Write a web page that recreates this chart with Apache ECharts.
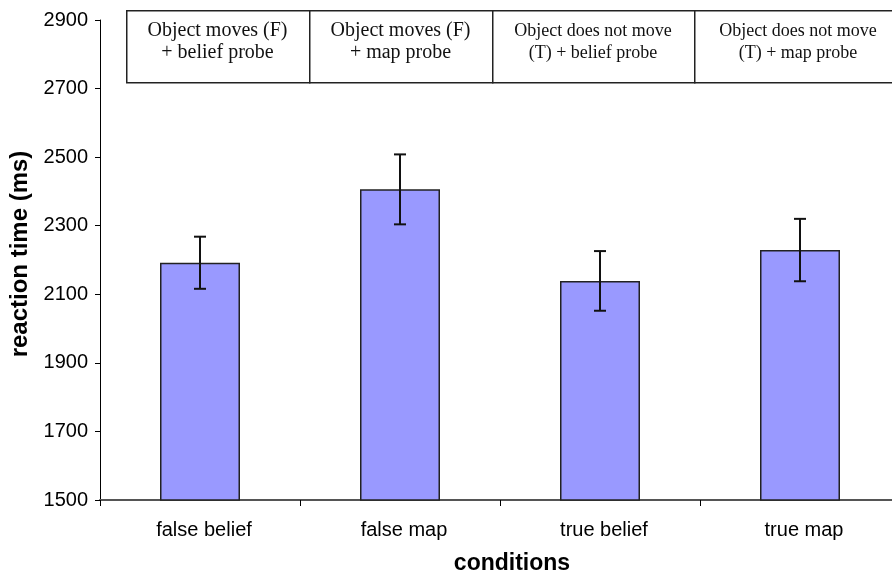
<!DOCTYPE html>
<html>
<head>
<meta charset="utf-8">
<script src="https://cdn.jsdelivr.net/npm/echarts@6/dist/echarts.min.js"></script>
<style>html,body{margin:0;padding:0;background:#fff}#c{width:892px;height:573px}</style>
</head>
<body>
<div id="c"></div>
<script>
var categories = ['false belief', 'false map', 'true belief', 'true map'];
var meanRT = [2192, 2406, 2139, 2229];
var errRT = [76, 102, 87, 91];
var yTicks = [1500, 1700, 1900, 2100, 2300, 2500, 2700, 2900];
var boxLine1 = ['Object moves (F)', 'Object moves (F)', 'Object does not move', 'Object does not move'];
var boxLine2 = ['+ belief probe', '+ map probe', '(T) + belief probe', '(T) + map probe'];

var chart = echarts.init(document.getElementById('c'), null, {renderer: 'canvas'});

var boxX = [126, 309, 492, 694, 902];
var boxFont = [20, 20, 18, 18];
var graphics = [];
for (var i = 0; i < 4; i++) {
  graphics.push({
    type: 'rect', left: boxX[i], top: 10,
    shape: {width: boxX[i + 1] - boxX[i], height: 72},
    style: {fill: '#fff', stroke: '#222', lineWidth: 1.5}, z: 10
  });
  graphics.push({
    type: 'text', z: 11,
    x: (boxX[i] + boxX[i + 1]) / 2, y: 31,
    style: {text: boxLine1[i], fill: '#111', font: boxFont[i] + 'px "Liberation Serif", "Times New Roman", serif', textAlign: 'center', textVerticalAlign: 'middle'}
  });
  graphics.push({
    type: 'text', z: 11,
    x: (boxX[i] + boxX[i + 1]) / 2, y: 53,
    style: {text: boxLine2[i], fill: '#111', font: boxFont[i] + 'px "Liberation Serif", "Times New Roman", serif', textAlign: 'center', textVerticalAlign: 'middle'}
  });
}

var errData = meanRT.map(function (m, i) { return [i, m - errRT[i], m + errRT[i]]; });

chart.setOption({
  animation: false,
  backgroundColor: '#fff',
  grid: {left: 100, top: 20, width: 800, height: 480, containLabel: false, outerBoundsMode: 'none'},
  xAxis: {
    type: 'category',
    data: categories,
    name: 'conditions',
    nameLocation: 'middle',
    nameGap: 52,
    nameTextStyle: {fontFamily: '"Liberation Sans", Arial, sans-serif', fontWeight: 'bold', fontSize: 23, color: '#000', padding: [0, 0, 0, 24]},
    axisLine: {lineStyle: {color: '#555', width: 2}},
    axisTick: {show: true, length: 6, lineStyle: {color: '#000', width: 1}},
    axisLabel: {margin: 20, fontFamily: '"Liberation Sans", Arial, sans-serif', fontSize: 20, color: '#000', padding: [0, 0, 0, 8]},
    splitLine: {show: false}
  },
  yAxis: {
    type: 'value',
    min: yTicks[0],
    max: yTicks[yTicks.length - 1],
    interval: 200,
    name: 'reaction time (ms)',
    nameLocation: 'middle',
    nameRotate: 90,
    nameGap: 66,
    nameTextStyle: {fontFamily: '"Liberation Sans", Arial, sans-serif', fontWeight: 'bold', fontSize: 24, color: '#000', padding: [0, 0, 0, 12]},
    axisLine: {show: true, lineStyle: {color: '#000', width: 1}},
    axisTick: {show: true, length: 5, lineStyle: {color: '#000'}},
    axisLabel: {margin: 12, fontFamily: '"Liberation Sans", Arial, sans-serif', fontSize: 20, color: '#000', formatter: function (v) { return String(v); }},
    splitLine: {show: false}
  },
  series: [
    {
      type: 'bar',
      data: meanRT,
      barWidth: 80,
      itemStyle: {color: '#9999FF', borderColor: '#222', borderWidth: 1.5}
    },
    {
      type: 'custom',
      data: errData,
      z: 5,
      renderItem: function (params, api) {
        var lo = api.coord([api.value(0), api.value(1)]);
        var hi = api.coord([api.value(0), api.value(2)]);
        var w = 6;
        var st = {stroke: '#111', lineWidth: 2};
        return {
          type: 'group',
          children: [
            {type: 'line', shape: {x1: hi[0], y1: hi[1], x2: lo[0], y2: lo[1]}, style: st},
            {type: 'line', shape: {x1: hi[0] - w, y1: hi[1], x2: hi[0] + w, y2: hi[1]}, style: st},
            {type: 'line', shape: {x1: lo[0] - w, y1: lo[1], x2: lo[0] + w, y2: lo[1]}, style: st}
          ]
        };
      }
    }
  ],
  graphic: graphics
});
</script>
</body>
</html>
